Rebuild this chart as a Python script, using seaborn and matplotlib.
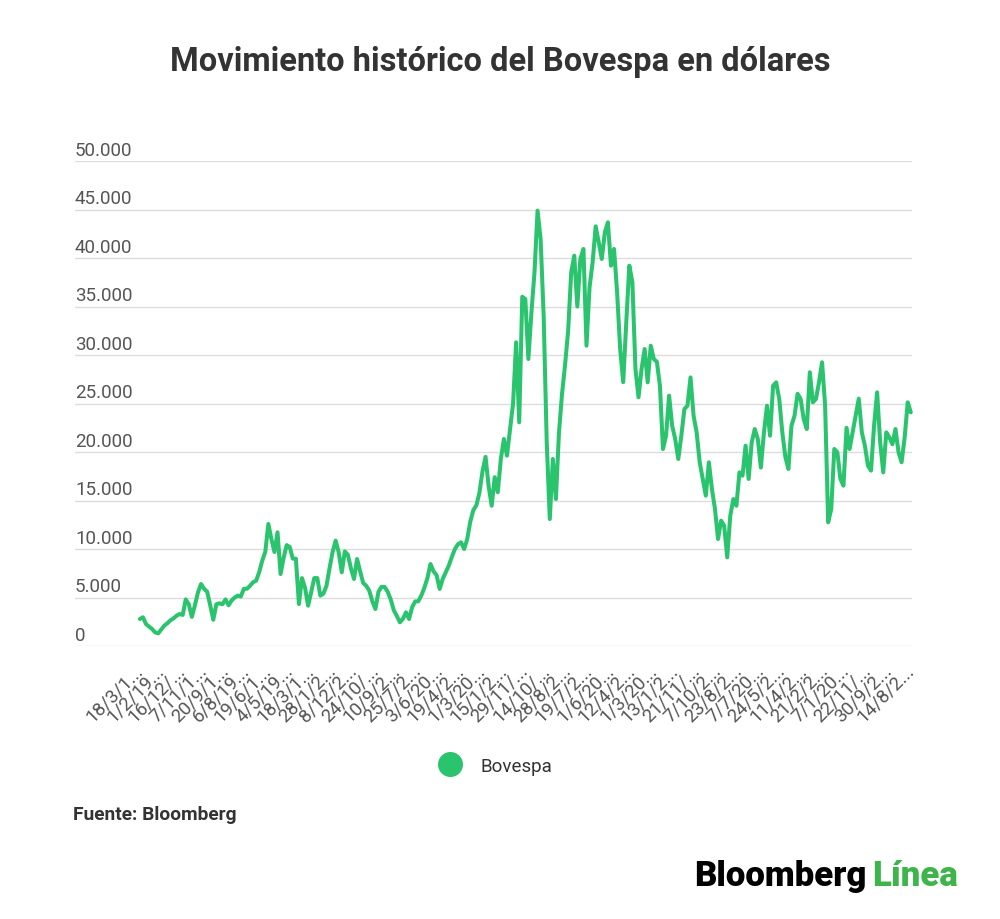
import numpy as np
import matplotlib
matplotlib.use("Agg")
import matplotlib.pyplot as plt
import matplotlib.transforms as mtransforms
from matplotlib.lines import Line2D
import seaborn as sns

# ── Data (Bovespa index in USD) ──
title = "Movimiento histórico del Bovespa en dólares"
series_name = "Bovespa"
source = "Fuente: Bloomberg"

bovespa_usd = [
    2780, 2960, 2270, 2000, 1750, 1400, 1300, 1700, 2100, 2350,
    2650, 2850, 3120, 3300, 3200, 4800, 4300, 3000, 4200, 5530,
    6390, 5900, 5600, 4200, 2700, 4300, 4400, 4300, 4800, 4200,
    4700, 5000, 5200, 5100, 5900, 5900, 6200, 6570, 6730, 7600,
    8800, 9700, 12580, 11030, 9690, 11720, 7420, 9100, 10400, 10200,
    9000, 9000, 4330, 7000, 6000, 4150, 5530, 7000, 7000, 5190,
    5400, 6200, 8000, 9700, 10860, 9660, 7600, 9750, 9400, 8000,
    6910, 8970, 7700, 6500, 6200, 5700, 4600, 3810, 5600, 6100,
    6100, 5600, 4800, 3700, 3100, 2440, 2800, 3470, 2780, 4000,
    4600, 4600, 5200, 6000, 7000, 8450, 7700, 7300, 5880, 6910,
    7600, 8300, 9200, 10000, 10500, 10690, 10000, 11000, 12800, 14000,
    14500, 15800, 18000, 19500, 16500, 14460, 17400, 15850, 19280, 21340,
    19620, 22300, 25000, 31310, 23060, 36000, 35770, 29590, 34400, 38520,
    44880, 41960, 34000, 21000, 13090, 19280, 15150, 22000, 26000, 29000,
    32500, 38520, 40240, 35000, 39900, 40930, 30960, 37000, 39550, 43260,
    41620, 39900, 42650, 43680, 39210, 40930, 36500, 30620, 27200, 33370,
    39210, 37490, 28560, 25640, 28560, 30620, 27180, 30960, 29590, 29300,
    26840, 20310, 21680, 25810, 22710, 21340, 19280, 21680, 24430, 24770,
    27690, 23740, 22030, 18940, 17220, 15500, 18940, 16190, 14120, 11030,
    12920, 12400, 9140, 13430, 15150, 14460, 17900, 17560, 20650, 17220,
    21000, 22370, 21340, 18400, 22000, 24770, 21680, 26840, 27180, 25460,
    22030, 19500, 18250, 22710, 23740, 26000, 25460, 23400, 22370, 28220,
    25120, 25460, 27180, 29250, 24770, 12750, 14120, 20310, 19970, 17220,
    16530, 22500, 20310, 22030, 23740, 25500, 22030, 20650, 18590, 18080,
    22710, 26150, 21000, 17900, 22030, 21500, 20800, 22370, 19970, 18940,
    21500, 25120, 24090,
]

date_labels = [
    "18/3/1...", "1/2/19...", "16/12/...", "7/11/1...", "20/9/1...", "6/8/19...",
    "19/6/1...", "4/5/19...", "18/3/1...", "28/1/2...", "8/12/2...", "24/10/...",
    "10/9/2...", "25/7/2...", "3/6/20...", "19/4/2...", "1/3/20...", "15/1/2...",
    "29/11/...", "14/10/...", "28/8/2...", "19/7/2...", "1/6/20...", "12/4/2...",
    "1/3/20...", "13/1/2...", "21/11/...", "7/10/2...", "23/8/2...", "7/7/20...",
    "24/5/2...", "11/4/2...", "21/2/2...", "7/1/20...", "22/11/...", "30/9/2...",
    "14/8/2...",
]

y_ticks = [0, 5000, 10000, 15000, 20000, 25000, 30000, 35000, 40000, 45000, 50000]
y_tick_labels = ["0", "5.000", "10.000", "15.000", "20.000", "25.000",
                 "30.000", "35.000", "40.000", "45.000", "50.000"]

GREEN = "#2bc46e"
TEXT = "#333333"
TICK = "#555555"

sns.set_style("white")
plt.rcParams["font.family"] = ["Roboto", "DejaVu Sans"]

fig = plt.figure(figsize=(10, 9.2), dpi=100)
ax = fig.add_axes([0.075, 1 - 647 / 920, 0.912 - 0.075, (647 - 162) / 920])

idx = np.arange(len(bovespa_usd))
sns.lineplot(x=idx, y=bovespa_usd, ax=ax, color=GREEN, linewidth=2.9,
             legend=False, clip_on=False)

ax.set_xlim(-21.2, len(bovespa_usd) - 0.6)
ax.set_ylim(0, 50000)

# horizontal gridlines with labels sitting above them
ax.set_yticks(y_ticks)
ax.set_yticklabels([])
ax.tick_params(axis="y", length=0)
for v in y_ticks:
    ax.axhline(v, color="#dddddd", linewidth=1, zorder=0)
trans = mtransforms.blended_transform_factory(ax.transAxes, ax.transData)
for v, lab in zip(y_ticks, y_tick_labels):
    ax.text(0.0, v + 250, lab, transform=trans, ha="left", va="bottom",
            fontsize=13.5, color=TICK)

# category labels every 7th point
tick_pos = idx[::7][:len(date_labels)]
ax.set_xticks(tick_pos)
ax.set_xticklabels(date_labels, rotation=45, ha="right", va="center",
                   rotation_mode="anchor", fontsize=13.5, color=TICK)
ax.tick_params(axis="x", length=0, pad=15)

for s in ax.spines.values():
    s.set_visible(False)
ax.set_xlabel("")
ax.set_ylabel("")

fig.text(0.5, 1 - 62 / 920, title, ha="center", va="center",
         fontsize=23.5, fontweight="bold", color=TEXT)

handle = Line2D([], [], marker="o", color=GREEN, linestyle="", markersize=17)
fig.legend(handles=[handle], labels=[series_name], loc="center",
           bbox_to_anchor=(0.492, 1 - 767 / 920), frameon=False,
           fontsize=13.5, handletextpad=0.6, labelcolor=TEXT)

fig.text(0.073, 1 - 815 / 920, source, ha="left", va="center",
         fontsize=13.8, fontweight="bold", color=TEXT)

# Bloomberg Línea wordmark
fig.text(0.866, 1 - 877 / 920, "Bloomberg", ha="right", va="center",
         fontsize=25, fontweight="heavy", color="black")
fig.text(0.872, 1 - 877 / 920, "Línea", ha="left", va="center",
         fontsize=25, fontweight="heavy", color="#3db54a")

fig.savefig("out.png", dpi=100)
plt.close(fig)
